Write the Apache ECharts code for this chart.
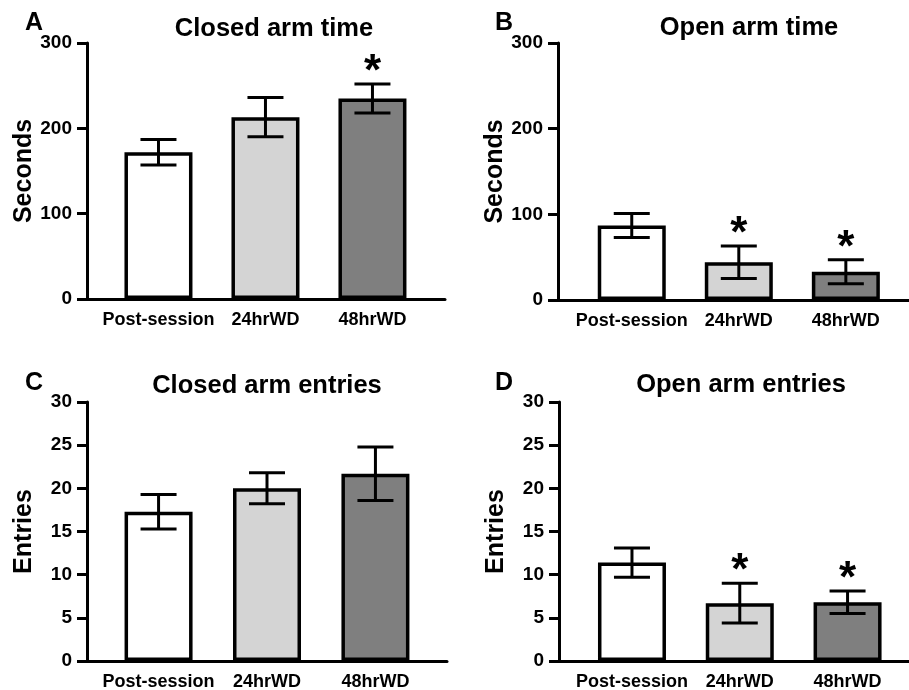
<!DOCTYPE html>
<html>
<head>
<meta charset="utf-8">
<script src="https://cdn.jsdelivr.net/npm/echarts@6/dist/echarts.min.js"></script>
<style>
html,body{margin:0;padding:0;background:#fff;}
#chart{width:909px;height:690px;}
</style>
</head>
<body>
<div id="chart"></div>
<script>
// ---- data ----
const categories = ['Post-session', '24hrWD', '48hrWD'];
const closedTimeMean = [172, 213, 235];
const closedTimeSem = [15, 23, 17];
const closedTimeSig = [false, false, true];
const openTimeMean = [87, 44, 33];
const openTimeSem = [14, 19, 14];
const openTimeSig = [false, true, true];
const closedEntriesMean = [17.3, 20.0, 21.7];
const closedEntriesSem = [2.0, 1.8, 3.1];
const closedEntriesSig = [false, false, false];
const openEntriesMean = [11.4, 6.7, 6.8];
const openEntriesSem = [1.7, 2.3, 1.3];
const openEntriesSig = [false, true, true];
const timeTicks = [0, 100, 200, 300];
const entriesTicks = [0, 5, 10, 15, 20, 25, 30];

// ---- styling ----
const FONT = 'Liberation Sans, Arial, Helvetica, sans-serif';
const barColors = ['#ffffff', '#d4d4d4', '#7f7f7f'];

const panels = [
  { letter: 'A', title: 'Closed arm time', yName: 'Seconds', mean: closedTimeMean, sem: closedTimeSem, sig: closedTimeSig, ticks: timeTicks,
    grid: { left: 87, top: 43, width: 358, height: 256 }, xmin: -0.668, xmax: 2.678,
    letterPos: [25, 11], titleX: 274, titleY: 16 },
  { letter: 'B', title: 'Open arm time', yName: 'Seconds', mean: openTimeMean, sem: openTimeSem, sig: openTimeSig, ticks: timeTicks,
    grid: { left: 558, top: 43, width: 351, height: 257 }, xmin: -0.689, xmax: 2.59,
    letterPos: [495, 11], titleX: 749, titleY: 15 },
  { letter: 'C', title: 'Closed arm entries', yName: 'Entries', mean: closedEntriesMean, sem: closedEntriesSem, sig: closedEntriesSig, ticks: entriesTicks,
    grid: { left: 87, top: 402, width: 360, height: 259 }, xmin: -0.66, xmax: 2.66,
    letterPos: [25, 371], titleX: 267, titleY: 373 },
  { letter: 'D', title: 'Open arm entries', yName: 'Entries', mean: openEntriesMean, sem: openEntriesSem, sig: openEntriesSig, ticks: entriesTicks,
    grid: { left: 559, top: 402, width: 350, height: 259 }, xmin: -0.677, xmax: 2.57,
    letterPos: [495, 371], titleX: 741, titleY: 372 }
];

const option = {
  animation: false,
  backgroundColor: '#ffffff',
  title: [],
  grid: [],
  xAxis: [],
  yAxis: [],
  series: [],
  graphic: []
};

panels.forEach((p, k) => {
  option.grid.push(Object.assign({ outerBoundsMode: 'none', containLabel: false }, p.grid));
  option.title.push({
    text: p.title, left: p.titleX, top: p.titleY, textAlign: 'center', padding: 0,
    textStyle: { fontFamily: FONT, fontWeight: 'bold', fontSize: 25.5, color: '#000' }
  });
  option.graphic.push({
    type: 'text', left: p.letterPos[0], top: p.letterPos[1],
    style: { text: p.letter, font: 'bold 25px ' + FONT, fill: '#000' }
  });
  const ymax = p.ticks[p.ticks.length - 1];
  option.xAxis.push({
    type: 'value', gridIndex: k, min: p.xmin, max: p.xmax,
    splitLine: { show: false },
    axisLine: { show: true, onZero: false, lineStyle: { color: '#000', width: 3 } },
    axisTick: { show: false },
    axisLabel: {
      customValues: [0, 1, 2],
      formatter: v => categories[Math.round(v)] || '',
      margin: 12, color: '#000', fontFamily: FONT, fontWeight: 'bold', fontSize: 18
    }
  });
  option.yAxis.push({
    type: 'value', gridIndex: k, min: p.ticks[0], max: ymax, interval: p.ticks[1] - p.ticks[0],
    name: p.yName, nameLocation: 'middle', nameRotate: 90, nameGap: 50,
    nameTextStyle: { fontFamily: FONT, fontWeight: 'bold', fontSize: 25, color: '#000' },
    splitLine: { show: false },
    axisLine: { show: true, onZero: false, lineStyle: { color: '#000', width: 3 } },
    axisTick: { show: true, length: 10, lineStyle: { color: '#000', width: 3 } },
    axisLabel: { margin: 15, color: '#000', fontFamily: FONT, fontWeight: 'bold', fontSize: 19 }
  });
  option.series.push({
    type: 'bar', xAxisIndex: k, yAxisIndex: k, barWidth: 68,
    data: categories.map((c, i) => ({ value: [i, p.mean[i]], itemStyle: { color: barColors[i] } })),
    itemStyle: { borderColor: '#000', borderWidth: 3.5 }
  });
  option.series.push({
    type: 'custom', xAxisIndex: k, yAxisIndex: k, z: 5,
    data: categories.map((c, i) => [i, p.mean[i], p.sem[i]]),
    encode: { x: 0, y: 1 },
    renderItem: (params, api) => {
      const x = api.value(0), m = api.value(1), e = api.value(2);
      const top = api.coord([x, m + e]);
      const bot = api.coord([x, m - e]);
      const hw = 18;
      const st = { stroke: '#000', lineWidth: 3 };
      return {
        type: 'group', children: [
          { type: 'line', shape: { x1: top[0], y1: top[1], x2: bot[0], y2: bot[1] }, style: st },
          { type: 'line', shape: { x1: top[0] - hw, y1: top[1], x2: top[0] + hw, y2: top[1] }, style: st },
          { type: 'line', shape: { x1: bot[0] - hw, y1: bot[1], x2: bot[0] + hw, y2: bot[1] }, style: st }
        ]
      };
    }
  });
  option.series.push({
    type: 'custom', xAxisIndex: k, yAxisIndex: k, z: 6,
    data: categories.map((c, i) => [i, p.mean[i] + p.sem[i]]).filter((d, i) => p.sig[i]),
    encode: { x: 0, y: 1 },
    renderItem: (params, api) => {
      const pt = api.coord([api.value(0), api.value(1)]);
      return {
        type: 'text', x: pt[0], y: pt[1] - 11,
        style: { text: '*', font: 'bold 44px ' + FONT, fill: '#000', textAlign: 'center', textVerticalAlign: 'middle' }
      };
    }
  });
});

const chart = echarts.init(document.getElementById('chart'), null, { renderer: 'canvas' });
chart.setOption(option);
</script>
</body>
</html>
